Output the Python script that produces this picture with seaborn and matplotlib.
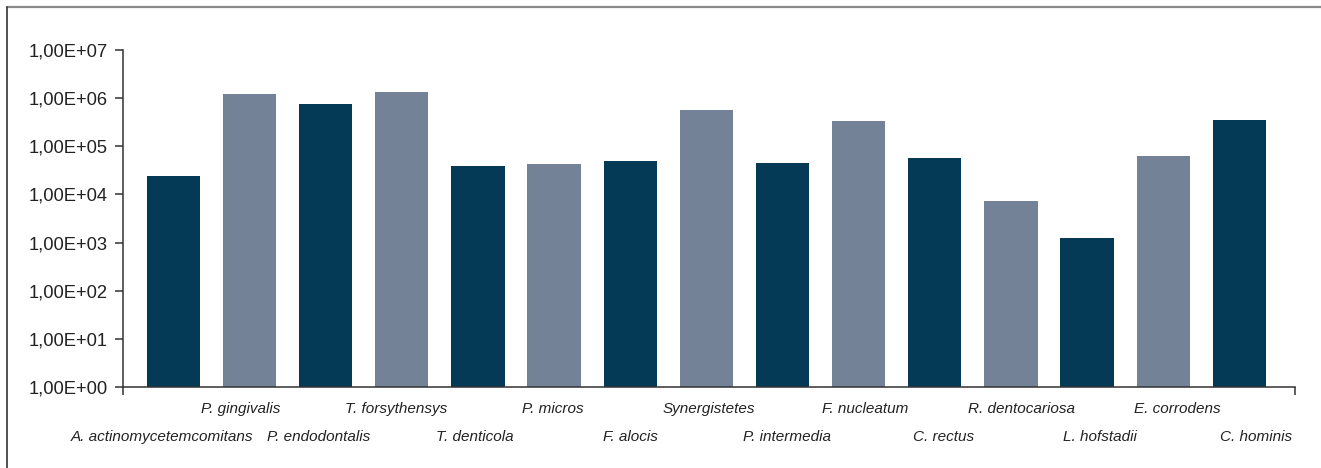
import matplotlib
matplotlib.use("Agg")
import matplotlib.pyplot as plt
from matplotlib.lines import Line2D
from matplotlib.ticker import FixedLocator, FuncFormatter
import numpy as np
import pandas as pd
import seaborn as sns

species = [
    "A. actinomycetemcomitans", "P. gingivalis", "P. endodontalis",
    "T. forsythensys", "T. denticola", "P. micros", "F. alocis",
    "Synergistetes", "P. intermedia", "F. nucleatum", "C. rectus",
    "R. dentocariosa", "L. hofstadii", "E. corrodens", "C. hominis",
]
counts = [
    2.4e4, 1.24e6, 7.6e5, 1.36e6, 3.9e4, 4.3e4, 5.0e4,
    5.7e5, 4.5e4, 3.4e5, 5.8e4, 7.4e3, 1.25e3, 6.3e4, 3.6e5,
]
ytick_values = [1e0, 1e1, 1e2, 1e3, 1e4, 1e5, 1e6, 1e7]

dark = "#053A57"
light = "#738297"
bar_colors = [dark if i % 2 == 0 else light for i in range(len(species))]

df = pd.DataFrame({"species": species, "count": counts})

sns.set_theme(style="white")
plt.rcParams["font.family"] = ["Liberation Sans", "DejaVu Sans"]

fig = plt.figure(figsize=(13.21, 4.68), dpi=100)
ax = fig.add_axes([123 / 1321, 1 - 387 / 468, 1172 / 1321, 337 / 468])

sns.barplot(
    data=df, x="species", y="count", hue="species",
    palette=bar_colors, legend=False, width=0.7, ax=ax,
    saturation=1, edgecolor="none", log_scale=(False, True),
)

ax.set_yscale("log")
ax.set_ylim(1, 1e7)
ax.yaxis.set_major_locator(FixedLocator(ytick_values))
ax.yaxis.set_minor_locator(FixedLocator([]))


def sci_comma(v, _pos):
    exp = int(round(np.log10(v)))
    return f"1,00E+{exp:02d}"


ax.yaxis.set_major_formatter(FuncFormatter(sci_comma))

x0, x1 = -0.66, 14.73
ax.set_xlim(x0, x1)
n = len(species)
band = (x1 - x0) / n
label_pos = [x0 + (i + 0.5) * band for i in range(n)]
ax.set_xticks(label_pos)
ax.set_xticklabels(species)
ax.xaxis.set_minor_locator(FixedLocator([x0, x1]))

ax.set_xlabel("")
ax.set_ylabel("")

for side in ("top", "right"):
    ax.spines[side].set_visible(False)
for side in ("left", "bottom"):
    ax.spines[side].set_color("#333333")
    ax.spines[side].set_linewidth(1.1)

ax.tick_params(axis="y", which="major", direction="out", length=6,
               width=1.1, color="#333333", left=True, pad=5,
               labelsize=13.2, labelcolor="#222222")
ax.tick_params(axis="x", which="major", length=0)
ax.tick_params(axis="x", which="minor", direction="out", length=6,
               width=1.1, color="#333333", bottom=True)

for i, (tick, lab) in enumerate(zip(ax.xaxis.get_major_ticks(),
                                    ax.get_xticklabels())):
    tick.set_pad(31 if i % 2 == 0 else 10.5)
    lab.set_fontstyle("italic")
    lab.set_fontsize(11)
    lab.set_color("#222222")

# outer frame lines
fig.add_artist(Line2D([7 / 1321, 1], [1 - 7 / 468, 1 - 7 / 468],
                      transform=fig.transFigure, color="#8a8a8a", lw=1.6))
fig.add_artist(Line2D([7 / 1321, 7 / 1321], [0, 1 - 7 / 468],
                      transform=fig.transFigure, color="#333333", lw=1.2))

fig.savefig("out.png", dpi=100)
